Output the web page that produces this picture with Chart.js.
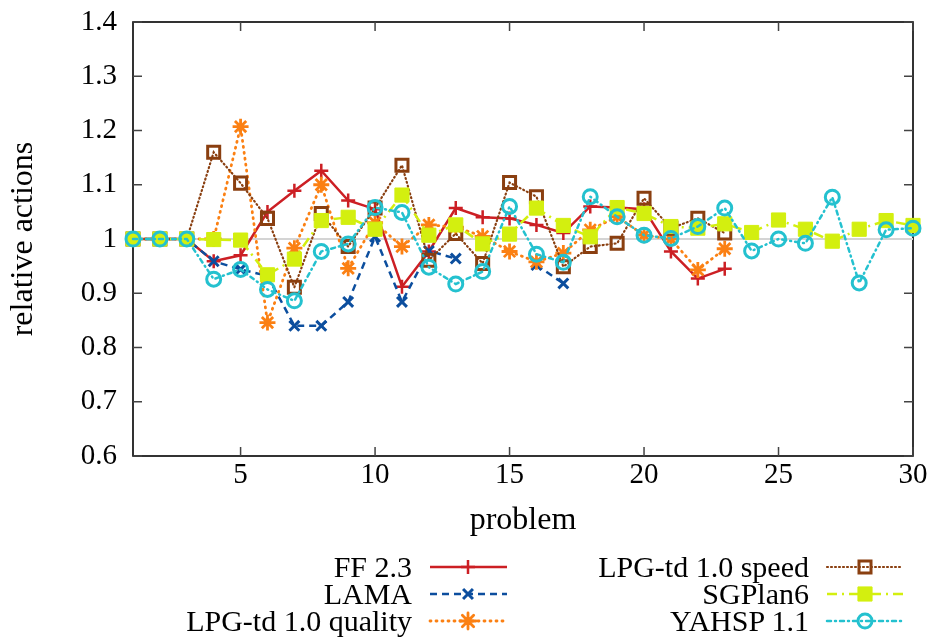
<!DOCTYPE html>
<html><head><meta charset="utf-8">
<script src="https://cdn.jsdelivr.net/npm/chart.js@4.4.1/dist/chart.umd.min.js"></script>
<style>
html,body{margin:0;padding:0;background:#fff;}
#wrap{position:relative;width:935px;height:640px;overflow:hidden;}
#c{position:absolute;left:0;top:0;}
.lg{position:absolute;font-family:"Liberation Serif",serif;font-size:30px;color:#000;text-align:right;white-space:nowrap;line-height:27px;height:27px;}
</style></head><body>
<div id="wrap"><canvas id="c" width="935" height="640"></canvas><div id="legend"></div></div>
<script>
// ---- data ----
const problems = [1,2,3,4,5,6,7,8,9,10,11,12,13,14,15,16,17,18,19,20,21,22,23,24,25,26,27,28,29,30];
const seriesNames = ["FF 2.3","LAMA","LPG-td 1.0 quality","LPG-td 1.0 speed","SGPlan6","YAHSP 1.1"];
const ff2 = [1,1,1,0.959,0.970,1.050,1.089,1.126,1.071,1.055,0.912,0.977,1.057,1.040,1.038,1.026,1.011,1.060,1.058,1.055,0.977,0.927,0.945];
const lama = [1,1,1,0.959,0.944,0.932,0.840,0.840,0.884,1.004,0.884,0.978,0.964,null,null,0.952,0.918];
const lpgQuality = [1,1,1,1.000,1.207,0.846,0.983,1.100,0.946,1.030,0.986,1.026,1.022,1.005,0.977,0.958,0.974,1.017,1.041,1.007,1.000,0.943,0.982];
const lpgSpeed = [1,1,1,1.160,1.103,1.038,0.911,1.047,0.986,1.057,1.136,0.961,1.010,0.955,1.104,1.078,0.949,0.986,0.992,1.075,1.020,1.038,1.011];
const sgplan6 = [1,1,1,0.999,0.998,0.934,0.963,1.034,1.040,1.018,1.081,1.007,1.026,0.991,1.009,1.057,1.025,1.004,1.058,1.047,1.023,1.020,1.028,1.012,1.035,1.018,0.996,1.018,1.034,1.025];
const yahsp = [1,1,1,0.926,0.944,0.907,0.886,0.977,0.991,1.058,1.049,0.948,0.917,0.940,1.060,0.972,0.957,1.078,1.041,1.007,1.001,1.023,1.057,0.978,1.000,0.992,1.077,0.919,1.017,1.020];
const referenceLevel = 1;
const xTicks = [5,10,15,20,25,30];
const yTicks = [0.6,0.7,0.8,0.9,1.0,1.1,1.2,1.3,1.4];

// ---- styles ----
const styles = [
  {color:'#cc1f24', dash:[], width:2.5, point:'cross', radius:7, pbw:2.5, fill:false},
  {color:'#0c4e9e', dash:[7,5], width:2.5, point:'crossRot', radius:7, pbw:3, fill:false},
  {color:'#fb8013', dash:[1,5], width:2.8, point:'star', radius:8, pbw:2.8, fill:false, cap:'round'},
  {color:'#8a3f10', dash:[1,3], width:2.2, point:'rect', radius:8.5, pbw:3, fill:false, cap:'round'},
  {color:'#d3ef0f', dash:[10,5,2,5], width:2.5, point:'rect', radius:10, pbw:1, fill:true},
  {color:'#24c1cf', dash:[4,4,1,4], width:2.5, point:'circle', radius:7, pbw:3, fill:false, cap:'round'}
];
const seriesValues = [ff2, lama, lpgQuality, lpgSpeed, sgplan6, yahsp];

const toPoints = arr => arr.map((v,i)=>({x:problems[i], y:v}));

const datasets = seriesValues.map((vals,i)=>{
  const s = styles[i];
  return {
    label: seriesNames[i],
    data: toPoints(vals),
    borderColor: s.color,
    backgroundColor: s.fill ? s.color : 'rgba(0,0,0,0)',
    borderWidth: s.width,
    borderDash: s.dash,
    borderCapStyle: s.cap || 'butt',
    pointStyle: s.point,
    pointRadius: s.radius,
    pointBorderWidth: s.pbw,
    pointBorderColor: s.color,
    pointBackgroundColor: s.fill ? s.color : 'rgba(0,0,0,0)',
    tension: 0,
    spanGaps: false,
    clip: false,
    order: 10 - i
  };
});
datasets.push({
  label: 'ref',
  data: [{x:problems[0], y:referenceLevel},{x:problems[problems.length-1], y:referenceLevel}],
  borderColor:'#d4d4d4', borderWidth:2, pointRadius:0, order: 50, clip:false
});

Chart.defaults.font.family = '"Liberation Serif", serif';
Chart.defaults.color = '#000';

const LG = {leftEnd:412, rightEnd:809, rows:[567,594,621], left:[430,507,468], right:[827,903,865]};

const framePlugin = {
  id:'frame',
  beforeDatasetsDraw(chart){
    const {ctx, chartArea:a, scales:{x,y}} = chart;
    ctx.save();
    ctx.strokeStyle='#000'; ctx.lineWidth=1.6;
    ctx.strokeRect(a.left, a.top, a.right-a.left, a.bottom-a.top);
    ctx.strokeStyle='#444'; ctx.lineWidth=1.5;
    const L=9;
    ctx.beginPath();
    y.ticks.forEach(t=>{const py=y.getPixelForValue(t.value);
      ctx.moveTo(a.left,py); ctx.lineTo(a.left+L,py); ctx.moveTo(a.right,py); ctx.lineTo(a.right-L,py);});
    x.ticks.forEach(t=>{const px=x.getPixelForValue(t.value);
      ctx.moveTo(px,a.bottom); ctx.lineTo(px,a.bottom-L); ctx.moveTo(px,a.top); ctx.lineTo(px,a.top+L);});
    ctx.stroke();
    ctx.restore();
  },
  afterDraw(chart){
    const ctx = chart.ctx;
    for(let i=0;i<seriesNames.length;i++){
      const ds = chart.data.datasets[i];
      const col = i<3 ? LG.left : LG.right;
      const y = LG.rows[i%3];
      ctx.save();
      ctx.strokeStyle = ds.borderColor; ctx.lineWidth = ds.borderWidth;
      ctx.setLineDash(ds.borderDash); ctx.lineCap = ds.borderCapStyle;
      ctx.beginPath(); ctx.moveTo(col[0],y); ctx.lineTo(col[1],y); ctx.stroke();
      ctx.setLineDash([]);
      ctx.fillStyle = ds.pointBackgroundColor; ctx.strokeStyle = ds.pointBorderColor;
      ctx.lineWidth = ds.pointBorderWidth;
      Chart.helpers.drawPoint(ctx, {pointStyle: ds.pointStyle, radius: ds.pointRadius, rotation:0, borderWidth: ds.pointBorderWidth}, col[2], y);
      ctx.restore();
    }
  }
};

const chart = new Chart(document.getElementById('c'), {
  type:'line',
  data:{datasets},
  options:{
    responsive:false, animation:false, devicePixelRatio:1,
    layout:{padding:{left:0, top:22, right:22, bottom:99}},
    plugins:{legend:{display:false}, tooltip:{enabled:false}},
    scales:{
      x:{type:'linear', min:1, max:30,
        afterBuildTicks:s=>{s.ticks = xTicks.map(v=>({value:v}));},
        afterFit:s=>{s.height=85;},
        grid:{display:false, drawTicks:false}, border:{display:false},
        ticks:{font:{size:29}, padding:2, maxRotation:0, autoSkip:false, callback:v=>String(v)},
        title:{display:true, text:'problem', font:{size:32}, padding:{top:0,bottom:1}}
      },
      y:{type:'linear', min:0.6, max:1.4,
        afterBuildTicks:s=>{s.ticks = yTicks.map(v=>({value:v}));},
        afterFit:s=>{s.width=133;},
        grid:{display:false, drawTicks:false}, border:{display:false},
        ticks:{font:{size:29, lineHeight:0.35}, padding:16, autoSkip:false, callback:v=>String(+(+v).toFixed(1))},
        title:{display:true, text:'relative actions', font:{size:32}, padding:{top:4,bottom:0}}
      }
    }
  },
  plugins:[framePlugin]
});

// HTML legend text
const lgDiv = document.getElementById('legend');
seriesNames.forEach((n,i)=>{
  const d = document.createElement('div');
  d.className='lg';
  d.textContent = n;
  const end = i<3 ? LG.leftEnd : LG.rightEnd;
  d.style.right = (935-end)+'px';
  d.style.top = (LG.rows[i%3]-14)+'px';
  lgDiv.appendChild(d);
});
</script>
</body></html>
